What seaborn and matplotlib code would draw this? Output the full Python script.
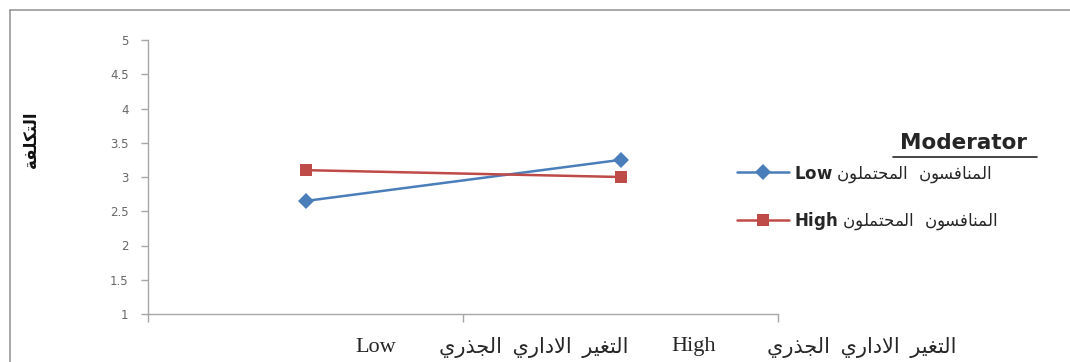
import numpy as np
import pandas as pd
import matplotlib
matplotlib.use("Agg")
import matplotlib.pyplot as plt
from matplotlib.lines import Line2D
import seaborn as sns

# ---------------------------------------------
# data
# ---------------------------------------------
categories = ["Low", "High"]            # x categories (radical change)
low_values = [2.65, 3.25]              # moderator: Low
high_values = [3.10, 3.00]             # moderator: High
y_ticks = [1, 1.5, 2, 2.5, 3, 3.5, 4, 4.5, 5]

x_phrase = "التغير الاداري الجذري"
legend_phrase = "المنافسون المحتملون"
y_title = "التكلفة"
legend_title = "Moderator"

# ---------------------------------------------
# minimal arabic shaping (no reshaper installed)
# isolated, final, initial, medial
# ---------------------------------------------
FORMS = {
    "ا": (0xFE8D, 0xFE8E, None, None),
    "ة": (0xFE93, 0xFE94, None, None),
    "ت": (0xFE95, 0xFE96, 0xFE97, 0xFE98),
    "ج": (0xFE9D, 0xFE9E, 0xFE9F, 0xFEA0),
    "ح": (0xFEA1, 0xFEA2, 0xFEA3, 0xFEA4),
    "د": (0xFEA9, 0xFEAA, None, None),
    "ذ": (0xFEAB, 0xFEAC, None, None),
    "ر": (0xFEAD, 0xFEAE, None, None),
    "س": (0xFEB1, 0xFEB2, 0xFEB3, 0xFEB4),
    "غ": (0xFECD, 0xFECE, 0xFECF, 0xFED0),
    "ف": (0xFED1, 0xFED2, 0xFED3, 0xFED4),
    "ك": (0xFED9, 0xFEDA, 0xFEDB, 0xFEDC),
    "ل": (0xFEDD, 0xFEDE, 0xFEDF, 0xFEE0),
    "م": (0xFEE1, 0xFEE2, 0xFEE3, 0xFEE4),
    "ن": (0xFEE5, 0xFEE6, 0xFEE7, 0xFEE8),
    "و": (0xFEED, 0xFEEE, None, None),
    "ي": (0xFEF1, 0xFEF2, 0xFEF3, 0xFEF4),
}


def shape_ar(text, gap=" "):
    out = []
    prev_joins = False
    i = 0
    while i < len(text):
        c = text[i]
        if c not in FORMS:
            out.append(gap if c == " " else c)
            prev_joins = False
            i += 1
            continue
        # lam-alef ligature
        if c == "ل" and i + 1 < len(text) and text[i + 1] == "ا":
            out.append(chr(0xFEFC if prev_joins else 0xFEFB))
            prev_joins = False
            i += 2
            continue
        iso, fin, ini, med = FORMS[c]
        nxt = text[i + 1] if i + 1 < len(text) else ""
        joins_next = ini is not None and nxt in FORMS
        if prev_joins and joins_next:
            g = med
        elif prev_joins:
            g = fin
        elif joins_next:
            g = ini
        else:
            g = iso
        out.append(chr(g))
        prev_joins = joins_next
        i += 1
    return "".join(reversed(out))


# ---------------------------------------------
# plot
# ---------------------------------------------
sns.set_style("white")
plt.rcParams["font.family"] = ["DejaVu Sans"]
plt.rcParams["mathtext.fontset"] = "dejavusans"

blue = "#4A7EBB"
red = "#BE4B48"

low_label = r"$\mathbf{Low}$ " + shape_ar(legend_phrase, gap="  ")
high_label = r"$\mathbf{High}$ " + shape_ar(legend_phrase, gap="  ")

df = pd.DataFrame({
    "pos": list(range(len(categories))) * 2,
    "value": low_values + high_values,
    "moderator": [low_label] * len(categories) + [high_label] * len(categories),
})

fig = plt.figure(figsize=(10.7, 3.62), dpi=100)
ax = fig.add_axes([148 / 1070, 1 - 314 / 362, 630 / 1070, 274 / 362])

sns.lineplot(data=df, x="pos", y="value", hue="moderator", style="moderator",
             markers={low_label: "D", high_label: "s"}, dashes=False,
             palette={low_label: blue, high_label: red},
             markersize=8, markeredgewidth=0, linewidth=1.8,
             legend=False, ax=ax)

ax.set_xlim(-0.5, len(categories) - 0.5)
ax.set_ylim(1, 5)
ax.set_yticks(y_ticks)
ax.set_yticklabels([f"{v:g}" for v in y_ticks], fontsize=8.5, color="#666666")
ax.set_xticks(np.arange(len(categories) + 1) - 0.5)
ax.set_xticklabels([""] * (len(categories) + 1))
ax.set_xlabel("")
ax.set_ylabel("")
ax.tick_params(axis="y", direction="out", length=5, width=1, color="#A6A6A6", pad=9, left=True)
ax.tick_params(axis="x", direction="out", length=6, width=1, color="#A6A6A6", bottom=True)
for side in ["top", "right"]:
    ax.spines[side].set_visible(False)
for side in ["left", "bottom"]:
    ax.spines[side].set_color("#A6A6A6")
    ax.spines[side].set_linewidth(1)

# y title (rotated arabic)
fig.text(31 / 1070, 1 - 139 / 362, shape_ar(y_title), rotation=90,
         fontsize=12, fontweight="bold", ha="center", va="center", color="#111111")

# x label line, drawn piece by piece in the visual order of the picture
serif = ["Liberation Serif", "DejaVu Sans"]
y_txt = 1 - 347 / 362
fig.text(355 / 1070, y_txt, categories[0], fontsize=16, family=serif, ha="left", va="center")
fig.text(534 / 1070, y_txt, shape_ar(x_phrase, gap="  "), fontsize=15,
         family=serif, ha="center", va="center")
fig.text(671 / 1070, y_txt, categories[1], fontsize=16, family=serif, ha="left", va="center")
fig.text(862 / 1070, y_txt, shape_ar(x_phrase, gap="  "), fontsize=15,
         family=serif, ha="center", va="center")

# legend
leg = ax.legend(handles=ax.lines[:2], labels=[low_label, high_label],
                loc="upper left", bbox_to_anchor=(737 / 1070, 1 - 164 / 362),
                bbox_transform=fig.transFigure, frameon=False,
                prop={"size": 12},
                handlelength=3.1, handletextpad=0.35, labelspacing=1.55,
                borderpad=0, borderaxespad=0)
for t in leg.get_texts():
    t.set_color("#262626")

fig.text(964 / 1070, 1 - 143 / 362, legend_title, fontsize=15.5, fontweight="bold",
         ha="center", va="center", color="#262626")
fig.add_artist(Line2D([893 / 1070, 1037 / 1070], [1 - 157 / 362, 1 - 157 / 362],
                      color="#262626", linewidth=1.2))

# chart border
fig.add_artist(Line2D([10 / 1070, 10 / 1070], [0, 1 - 10 / 362], color="#9a9a9a", linewidth=1.2))
fig.add_artist(Line2D([10 / 1070, 1], [1 - 10 / 362, 1 - 10 / 362], color="#9a9a9a", linewidth=1.2))

fig.savefig("out.png", dpi=100)
